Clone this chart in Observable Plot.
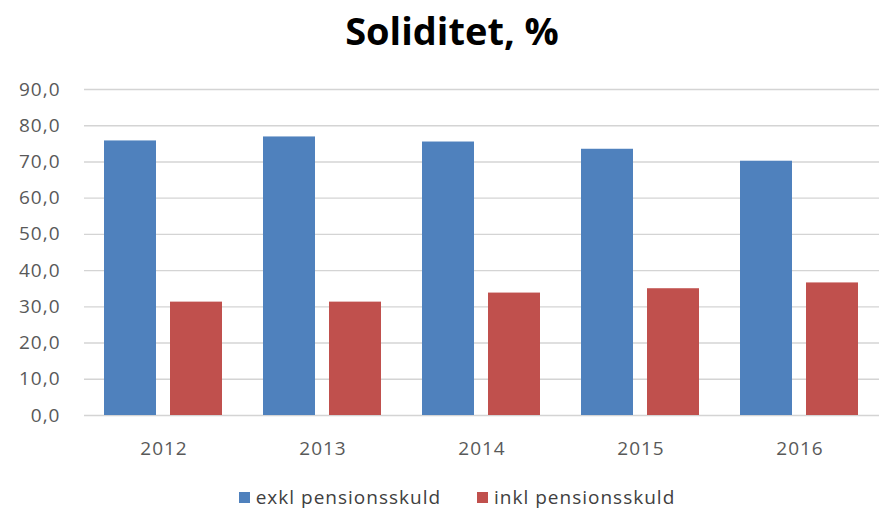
<!DOCTYPE html>
<html>
<head>
<meta charset="utf-8">
<script src="https://cdn.jsdelivr.net/npm/d3@7"></script>
<script src="https://cdn.jsdelivr.net/npm/@observablehq/plot@0.6"></script>
<style>
  html, body { margin: 0; padding: 0; background: #fff; }
  #wrap { width: 882px; height: 514px; position: relative; overflow: hidden; font-family: "Open Sans", sans-serif; }
  #title { height: 70px; box-sizing: border-box; padding-top: 11px; padding-left: 22px; text-align: center;
           font-size: 38px; line-height: 38px; font-weight: bold; color: #000; }
  #legend { display: flex; justify-content: center; align-items: center; padding-left: 32px;
            font-size: 19px; letter-spacing: 1px; color: #404040; height: 30px; line-height: 30px; }
  .item { display: flex; align-items: center; }
  .item + .item { margin-left: 36px; }
  .sw { width: 11px; height: 11px; margin-right: 6px; display: inline-block; }
</style>
</head>
<body>
<div id="wrap">
  <div id="title">Soliditet, %</div>
  <div id="chart"></div>
  <div id="legend"></div>
</div>
<script>
const years = [2012, 2013, 2014, 2015, 2016];
const series = ["exkl pensionsskuld", "inkl pensionsskuld"];
const exkl = [75.8, 76.9, 75.5, 73.5, 70.2];
const inkl = [31.3, 31.3, 33.8, 35.0, 36.6];
const yTicks = [0, 10, 20, 30, 40, 50, 60, 70, 80, 90];
const colors = ["#4F81BD", "#C0504D"];

const rows = [];
years.forEach((y, i) => {
  rows.push({year: y, series: series[0], value: exkl[i]});
  rows.push({year: y, series: series[1], value: inkl[i]});
});

const fmt = d => d.toFixed(1).replace(".", ",");

const chart = Plot.plot({
  width: 882,
  height: 412,
  marginLeft: 82,
  marginRight: 2,
  marginTop: 19,
  marginBottom: 67,
  style: {fontFamily: "Open Sans, sans-serif", fontSize: "19px", color: "#595959", letterSpacing: "1px", background: "#fff"},
  facet: {data: rows, x: "year", label: null},
  fx: {domain: years, padding: 0, tickSize: 0, tickPadding: 26, tickFormat: d => String(d), label: null, axis: "bottom"},
  x: {domain: series, paddingInner: 0.209, paddingOuter: 0.299, axis: null},
  y: {domain: [0, 90], ticks: yTicks, tickFormat: fmt, tickSize: 0, tickPadding: 24, label: null},
  color: {domain: series, range: colors},
  marks: [
    Plot.ruleY(yTicks, {stroke: "#d4d4d4", strokeWidth: 1.4, facet: null}),
    Plot.barY(rows, {x: "series", y: "value", fill: "series"})
  ]
});
document.getElementById("chart").appendChild(chart);

const legend = document.getElementById("legend");
series.forEach((s, i) => {
  const item = document.createElement("span");
  item.className = "item";
  const sw = document.createElement("span");
  sw.className = "sw";
  sw.style.background = colors[i];
  item.appendChild(sw);
  item.appendChild(document.createTextNode(s));
  legend.appendChild(item);
});
</script>
</body>
</html>
